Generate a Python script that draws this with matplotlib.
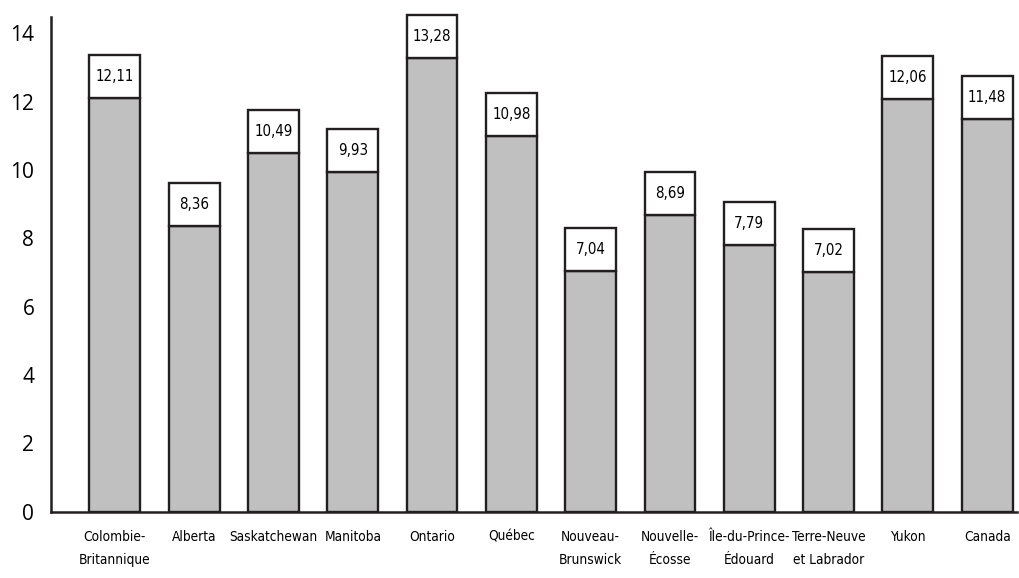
import matplotlib
matplotlib.use("Agg")
import matplotlib.pyplot as plt
from matplotlib import font_manager

provinces = ["Colombie-\nBritannique", "Alberta", "Saskatchewan", "Manitoba",
             "Ontario", "Québec", "Nouveau-\nBrunswick", "Nouvelle-\nÉcosse",
             "Île-du-Prince-\nÉdouard", "Terre-Neuve\net Labrador", "Yukon", "Canada"]
valeurs = [12.11, 8.36, 10.49, 9.93, 13.28, 10.98, 7.04, 8.69, 7.79, 7.02, 12.06, 11.48]
yticks = [0, 2, 4, 6, 8, 10, 12, 14]

# police étroite si disponible (comme l'original), sinon DejaVu plus petite
fichiers = [f.fname for f in font_manager.fontManager.ttflist]
etroits = [f for f in fichiers if ("Narrow" in f or "Condensed" in f)
           and "Bold" not in f and "Oblique" not in f and "Italic" not in f]
if etroits:
    police = font_manager.FontProperties(fname=etroits[0])
    t_cat, t_val = 9.8, 10.8
else:
    police = font_manager.FontProperties(family="DejaVu Sans")
    t_cat, t_val = 8.5, 9.5

gris = "#c0c0c0"
noir = "#231f20"
boite = 1.26  # hauteur de la case blanche au-dessus de chaque barre

fig = plt.figure(figsize=(10.19, 5.78), dpi=100)
ax = fig.add_axes([0.050, 0.115, 0.948, 0.856])

x = range(len(provinces))
ax.bar(x, valeurs, width=0.64, color=gris, edgecolor=noir, linewidth=1.7, zorder=2)
cases = ax.bar(x, [boite] * len(valeurs), bottom=valeurs, width=0.64, color="white",
               edgecolor=noir, linewidth=1.7, zorder=2)
for r in cases:
    r.set_clip_on(False)

for i, v in enumerate(valeurs):
    ax.text(i, v + boite / 2, f"{v:.2f}".replace(".", ","), ha="center", va="center",
            fontproperties=police, fontsize=t_val, color="black", zorder=3, clip_on=False)

ax.set_xlim(-0.806, 11.376)
ax.set_ylim(0, 14.48)
ax.set_yticks(yticks)
ax.set_yticklabels([str(t) for t in yticks], fontsize=15, family="Open Sans")
ax.set_xticks(list(x))
ax.set_xticklabels(provinces, linespacing=1.85, va="top")
for t in ax.get_xticklabels():
    t.set_fontproperties(police)
    t.set_fontsize(t_cat)
ax.tick_params(axis="both", length=0)
ax.tick_params(axis="y", pad=12)
ax.tick_params(axis="x", pad=13)

for s in ["top", "right"]:
    ax.spines[s].set_visible(False)
for s in ["left", "bottom"]:
    ax.spines[s].set_linewidth(1.8)
    ax.spines[s].set_color(noir)

fig.savefig("out.png", dpi=100)
